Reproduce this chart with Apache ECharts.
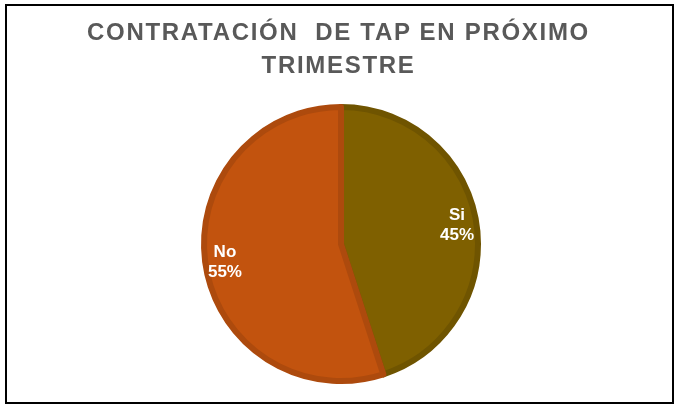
<!DOCTYPE html>
<html>
<head>
<meta charset="utf-8">
<script src="https://cdn.jsdelivr.net/npm/echarts@6/dist/echarts.min.js"></script>
<style>
  html, body { margin: 0; padding: 0; background: #fff; }
  #wrap { position: relative; width: 677px; height: 408px; }
  #chart { width: 677px; height: 408px; }
  #title {
    position: absolute; left: 0; top: 15px; width: 677px;
    text-align: center; white-space: pre;
    font-family: 'Liberation Sans', Arial, sans-serif;
    font-weight: bold; font-size: 24px; line-height: 33px;
    letter-spacing: 1.7px; color: #595959;
  }
</style>
</head>
<body>
<div id="wrap">
  <div id="chart"></div>
  <div id="title">CONTRATACIÓN  DE TAP EN PRÓXIMO
TRIMESTRE</div>
</div>
<script>
  // datos
  const categories = ['Si', 'No']
  const values = [45, 55]
  const colors = ['#7F6000', '#C2530E']
  const borders = ['#6F5400', '#AD4A0D']

  const chart = echarts.init(document.getElementById('chart'))

  const pieData = categories.map((name, i) => ({
    name: name,
    value: values[i],
    itemStyle: { color: colors[i], borderColor: borders[i] }
  }))

  chart.setOption({
    animation: false,
    graphic: [{
      type: 'rect',
      shape: { x: 6, y: 5, width: 667, height: 398 },
      style: { fill: null, stroke: '#000', lineWidth: 2 },
      silent: true
    }],
    series: [
      {
        type: 'pie',
        center: [341, 244],
        radius: [0, 137],
        startAngle: 90,
        clockwise: true,
        itemStyle: { borderWidth: 6 },
        label: { show: false },
        labelLine: { show: false },
        data: pieData
      },
      {
        // serie auxiliar solo para colocar las etiquetas
        type: 'pie',
        center: [341, 244],
        radius: [0, 229],
        startAngle: 90,
        clockwise: true,
        silent: true,
        itemStyle: { color: 'transparent' },
        label: {
          show: true,
          position: 'inside',
          formatter: '{b}\n{d}%',
          color: '#fff',
          fontFamily: 'Liberation Sans, Arial, sans-serif',
          fontWeight: 'bold',
          fontSize: 17,
          lineHeight: 20
        },
        labelLine: { show: false },
        data: categories.map((name, i) => ({ name: name, value: values[i] }))
      }
    ]
  })
</script>
</body>
</html>
